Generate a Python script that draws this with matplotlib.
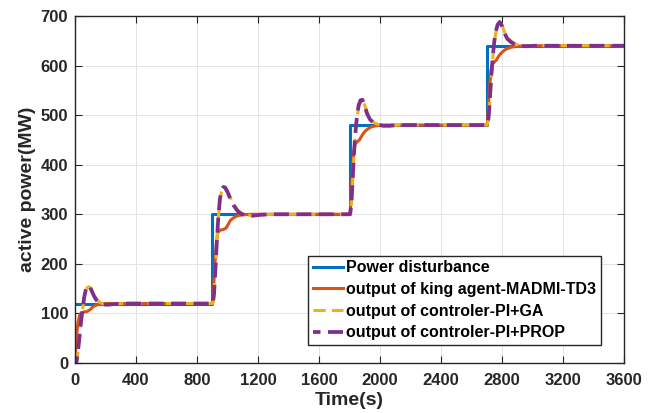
import matplotlib
matplotlib.use("Agg")
import matplotlib.pyplot as plt

plt.rcParams['font.family'] = ['Liberation Sans', 'DejaVu Sans']
plt.rcParams['font.weight'] = 'bold'

# power disturbance (step profile)
t_dist = [0, 900, 1800, 2700, 3600]
p_dist = [120, 300, 480, 640, 640]

# output of king agent-MADMI-TD3
t_td3 = [0, 5, 10, 20, 30, 40, 60, 80, 100, 120, 150, 200,
         900, 905, 912, 920, 928, 936, 950, 970, 990, 1005, 1020, 1040, 1065, 1100, 1160,
         1800, 1805, 1812, 1820, 1828, 1836, 1850, 1865, 1880, 1895, 1915, 1940, 1970, 2020,
         2700, 2705, 2712, 2720, 2728, 2736, 2750, 2765, 2780, 2800, 2825, 2860, 2900, 2960, 3600]
p_td3 = [0, 30, 55, 82, 96, 101, 103, 104, 108, 114, 118, 120,
         120, 125, 170, 210, 245, 263, 268, 269, 272, 280, 288, 293, 297, 299, 300,
         300, 305, 350, 390, 425, 442, 446, 450, 458, 465, 471, 476, 478.5, 480,
         480, 485, 525, 560, 590, 603, 607, 612, 620, 627, 633, 637, 639, 640, 640]

# output of controler-PI+GA
t_ga = [0, 10, 20, 30, 40, 50, 60, 70, 80, 90, 100, 110, 125, 140, 160, 185, 215, 260, 320,
        900, 905, 912, 920, 930, 940, 950, 960, 972, 985, 1000, 1020, 1040, 1065, 1090, 1120, 1160, 1220, 1300,
        1800, 1805, 1812, 1820, 1830, 1840, 1850, 1860, 1872, 1885, 1900, 1915, 1935, 1960, 1990, 2020, 2060, 2120,
        2700, 2705, 2712, 2720, 2730, 2740, 2750, 2760, 2772, 2785, 2800, 2815, 2835, 2860, 2890, 2920, 2960, 3020, 3600]
p_ga = [0, 2, 24, 53, 83, 108, 130, 145, 152, 154, 152, 147, 138, 129, 123, 119, 118, 119, 120,
        120, 122, 138, 182, 242, 292, 327, 345, 352, 352, 346, 333, 320, 309, 302, 298.5, 297.5, 299, 300,
        300, 302, 318, 362, 422, 467, 497, 517, 527, 529, 520, 506, 493, 485, 481, 479, 478.5, 480,
        480, 482, 494, 528, 577, 617, 647, 667, 680, 686, 681, 669, 657, 649, 643, 640, 639, 640, 640]

# output of controler-PI+PROP
t_prop = t_ga
p_prop = [0, 2, 25, 55, 85, 110, 132, 147, 154, 156, 152, 145, 135, 127, 121, 118, 117.5, 119, 120,
          120, 122, 140, 185, 245, 295, 330, 348, 355, 354, 345, 330, 318, 307, 301, 298, 297, 299, 300,
          300, 302, 320, 365, 425, 470, 500, 520, 530, 531, 518, 503, 491, 484, 480.5, 478.5, 478.5, 480,
          480, 482, 495, 530, 580, 620, 650, 670, 683, 688, 680, 666, 654, 647, 642, 639.5, 639, 640, 640]

labels = ['Power disturbance', 'output of king agent-MADMI-TD3',
          'output of controler-PI+GA', 'output of controler-PI+PROP']

fig = plt.figure(figsize=(6.59, 4.13), dpi=100)
ax = fig.add_axes([75/659, 50/413, 549/659, 347/413])

ax.plot(t_dist, p_dist, drawstyle='steps-post', color='#0072BD', lw=2.2, label=labels[0])
ax.plot(t_td3, p_td3, color='#D95319', lw=2.2, label=labels[1])
ax.plot(t_ga, p_ga, color='#EDB120', lw=2.2, ls=(0, (4, 2)), label=labels[2])
ax.plot(t_prop, p_prop, color='#7E2F8E', lw=2.7, ls=(2, (4, 2)), label=labels[3])

ax.set_xlim(0, 3600)
ax.set_ylim(0, 700)
ax.set_xticks(range(0, 3601, 400))
ax.set_yticks(range(0, 701, 100))
ax.grid(True, color='#e3e3e3', lw=0.7)
ax.set_axisbelow(True)
ax.tick_params(direction='in', top=True, right=True, labelsize=12, colors='#262626', length=5)
ax.tick_params(axis='x', pad=7)
ax.tick_params(axis='y', pad=5)
for lab in ax.get_xticklabels() + ax.get_yticklabels():
    lab.set_fontweight('bold')
for s in ax.spines.values():
    s.set_color('#262626')
    s.set_linewidth(1)

ax.set_xlabel('Time(s)', fontsize=14, fontweight='bold', color='#262626', labelpad=3)
ax.set_ylabel('active power(MW)', fontsize=14, fontweight='bold', color='#262626', labelpad=3)

leg = ax.legend(loc='lower right', bbox_to_anchor=(0.958, 0.052), borderaxespad=0,
                fancybox=False, framealpha=1, edgecolor='#262626',
                prop={'weight': 'bold', 'size': 11.5}, handlelength=1.9,
                handletextpad=0.2, labelspacing=0.42, borderpad=0.28)
leg.get_frame().set_linewidth(1)

fig.savefig('out.png', dpi=100)
